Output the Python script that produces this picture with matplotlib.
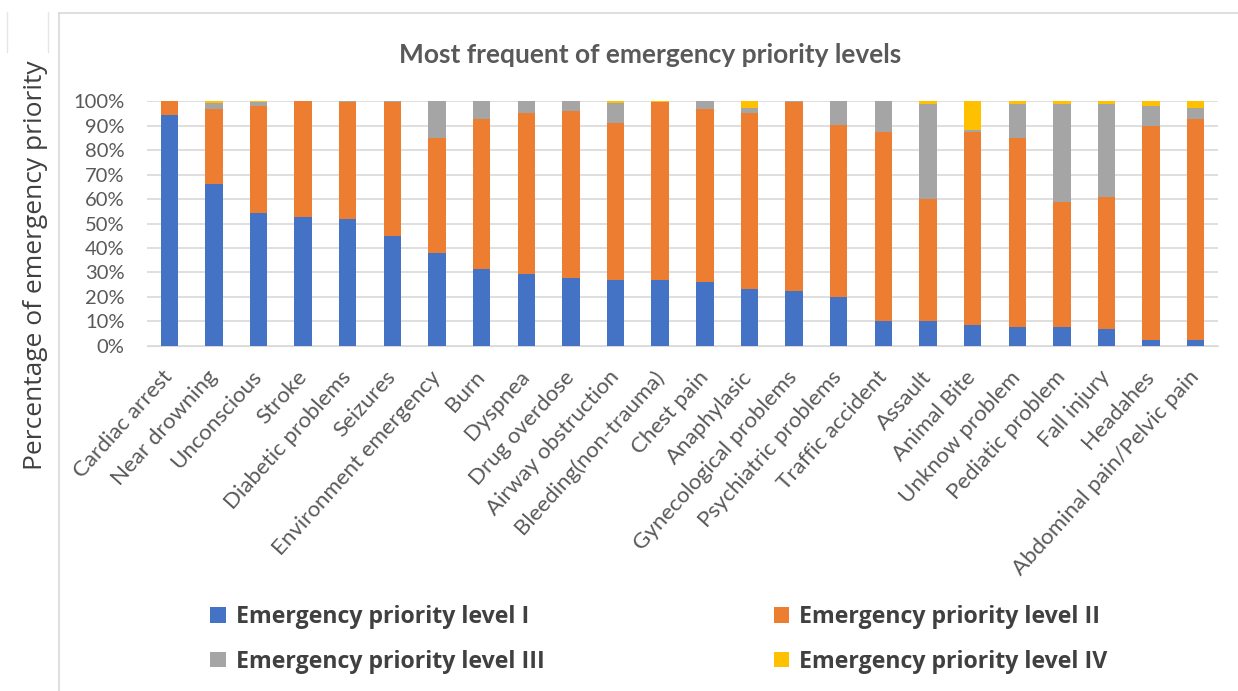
import numpy as np
import matplotlib.pyplot as plt
from matplotlib.lines import Line2D
from matplotlib.patches import Patch

plt.rcParams['font.family'] = ['Lato', 'DejaVu Sans']

# ======================
# Data (percent of calls per priority level)
# ======================
categories = [
    "Cardiac arrest", "Near drowning", "Unconscious", "Stroke",
    "Diabetic problems", "Seizures", "Environment emergency", "Burn",
    "Dyspnea", "Drug overdose", "Airway obstruction", "Bleeding(non-trauma)",
    "Chest pain", "Anaphylasic", "Gynecological problems",
    "Psychiatric problems", "Traffic accident", "Assault", "Animal Bite",
    "Unknow problem", "Pediatic problem", "Fall injury", "Headahes",
    "Abdominal pain/Pelvic pain",
]
level_1 = [94.3, 66.3, 54.2, 52.5, 51.7, 44.7, 37.8, 31.5, 29.3, 27.7, 26.9, 26.9,
           26.1, 23.1, 22.4, 19.9, 10.0, 10.0, 8.5, 7.6, 7.6, 6.8, 2.3, 2.3]
level_2 = [5.7, 30.3, 43.9, 47.5, 48.0, 55.0, 47.2, 61.3, 65.8, 68.2, 64.2, 72.7,
           70.5, 72.0, 77.2, 70.4, 77.3, 50.2, 78.8, 77.4, 51.1, 54.2, 87.3, 90.5]
level_3 = [0.0, 2.7, 1.5, 0.0, 0.3, 0.3, 15.0, 7.2, 4.9, 4.1, 8.2, 0.0,
           3.4, 2.0, 0.4, 9.7, 12.7, 38.4, 0.7, 13.6, 39.9, 37.6, 8.4, 4.3]
level_4 = [0.0, 0.7, 0.4, 0.0, 0.0, 0.0, 0.0, 0.0, 0.0, 0.0, 0.7, 0.4,
           0.0, 2.9, 0.0, 0.0, 0.0, 1.4, 12.0, 1.4, 1.4, 1.4, 2.0, 2.9]

series_names = ["Emergency priority level I", "Emergency priority level II",
                "Emergency priority level III", "Emergency priority level IV"]
colors = ["#4472C4", "#ED7D31", "#A5A5A5", "#FFC000"]

# ======================
# Figure
# ======================
fig = plt.figure(figsize=(12.38, 6.91), dpi=100)
ax = fig.add_axes([0.1187, 0.4993, 0.8652, 0.3545])

x = np.arange(len(categories))
bottom = np.zeros(len(categories))
for vals, col in zip([level_1, level_2, level_3, level_4], colors):
    vals = np.array(vals)
    ax.bar(x, vals, bottom=bottom, width=0.39, color=col, zorder=3)
    bottom += vals

ax.set_xlim(-0.5, len(categories) - 0.5)
ax.set_ylim(0, 100)
ax.set_yticks(np.arange(0, 101, 10))
ax.set_yticklabels([f"{v}%" for v in range(0, 101, 10)])
ax.grid(axis='y', color='#D9D9D9', linewidth=1.2, zorder=0)
for s in ['top', 'right', 'left']:
    ax.spines[s].set_visible(False)
ax.spines['bottom'].set_color('#D9D9D9')
ax.tick_params(axis='both', length=0, colors='#595959')
ax.tick_params(axis='y', pad=16, labelsize=14.5)

ax.set_xticks(x)
ax.set_xticklabels(categories, rotation=48, ha='right', va='center',
                   rotation_mode='anchor', fontsize=16)
ax.tick_params(axis='x', pad=20)

fig.text(0.525, 0.920, "Most frequent of emergency priority levels",
         fontsize=19, color='#595959', fontweight='bold',
         ha='center', va='center')
fig.text(0.029, 0.616, "Percentage of emergency priority", rotation=90,
         fontsize=19, color='#404040', ha='center', va='center',
         family=['Open Sans', 'DejaVu Sans'])

# legend, filled column-wise: I, III | II, IV
order = [0, 2, 1, 3]
handles = [Patch(facecolor=colors[i]) for i in order]
labels = [series_names[i] for i in order]
fig.legend(handles, labels, ncol=2, loc='upper left',
           bbox_to_anchor=(0.170, 0.1245), frameon=False, borderpad=0,
           borderaxespad=0, handlelength=0.65, handleheight=0.65,
           handletextpad=0.43, columnspacing=9.9, labelspacing=0.9,
           labelcolor='#404040',
           prop={'family': ['Open Sans', 'DejaVu Sans'], 'weight': 'bold',
                 'size': 16.7})

# chart-area border (left and top) and stray box edges at top-left
fig.add_artist(Line2D([0.048, 0.048], [0.0, 0.9816], color='#D9D9D9', lw=1.2))
fig.add_artist(Line2D([0.048, 1.0], [0.9816, 0.9816], color='#D9D9D9', lw=1.2))
fig.add_artist(Line2D([0.0057, 0.0057], [0.925, 0.983], color='#E6E6E6', lw=1.0))
fig.add_artist(Line2D([0.0388, 0.0388], [0.925, 0.983], color='#E6E6E6', lw=1.0))

fig.savefig("out.png", dpi=100)
